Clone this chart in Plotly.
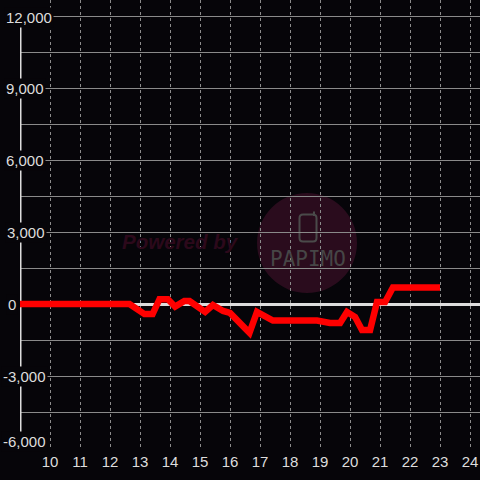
import plotly.graph_objects as go

# ---- data ----
hours = [9.0, 12.65, 13.15, 13.42, 13.65, 13.93, 14.17, 14.48, 14.65, 15.17, 15.43,
         15.77, 16.0, 16.65, 16.9, 17.43, 18.9, 19.33, 19.67, 19.9, 20.17, 20.4,
         20.67, 20.9, 21.17, 21.43, 23.0]
balance = [0, 0, -420, -420, 200, 200, -110, 125, 125, -330, -40,
           -290, -370, -1200, -330, -690, -690, -790, -790, -330, -540, -1080,
           -1080, 80, 80, 690, 690]

x_ticks = list(range(10, 25))
y_label_vals = [12000, 9000, 6000, 3000, 0, -3000, -6000]
y_label_text = ["12,000", "9,000", "6,000", "3,000", "0", "-3,000", "-6,000"]

BG = "#060509"
TXT = "#dddddd"

# layout geometry helpers (pixel -> axis coords)
L, W, T, H = 20, 460, 0, 448
XR = [9, 9 + W / 30]
YR = [-6000, 12000 + 16 * 1000 / 24]


def px2x(px):
    return XR[0] + (px - L) / W * (XR[1] - XR[0])


def py2y(py):
    return YR[1] - (py - T) / H * (YR[1] - YR[0])


fig = go.Figure()
fig.add_trace(go.Scatter(x=hours, y=balance, mode="lines",
                         line=dict(color="#ff0000", width=6.5),
                         hoverinfo="skip", showlegend=False))

shapes = []
# watermark circle
shapes.append(dict(type="circle", xref="x", yref="y",
                   x0=px2x(257), x1=px2x(357), y0=py2y(293), y1=py2y(193),
                   fillcolor="#2a0c1d", line=dict(width=0), layer="below"))
# phone icon
x0, x1, y0, y1 = px2x(299.5), px2x(316.5), py2y(241.5), py2y(214.5)
rx = px2x(303) - px2x(299.5)
ry = py2y(214.5) - py2y(218)
path = (f"M {x0+rx},{y0} L {x1-rx},{y0} Q {x1},{y0} {x1},{y0+ry} "
        f"L {x1},{y1-ry} Q {x1},{y1} {x1-rx},{y1} L {x0+rx},{y1} "
        f"Q {x0},{y1} {x0},{y1-ry} L {x0},{y0+ry} Q {x0},{y0} {x0+rx},{y0} Z")
shapes.append(dict(type="path", xref="x", yref="y", path=path,
                   line=dict(color="#4a4a4a", width=2), layer="below"))
shapes.append(dict(type="line", xref="x", yref="y",
                   x0=px2x(314), x1=px2x(314), y0=py2y(216), y1=py2y(211.5),
                   line=dict(color="#4a4a4a", width=2), layer="below"))
# y axis line
shapes.append(dict(type="line", xref="x", yref="y",
                   x0=9, x1=9, y0=-6000, y1=12000,
                   line=dict(color=TXT, width=3), layer="between"))
fig.update_layout(shapes=shapes)

annotations = []
y_label_left = [6, 6, 6, 7, 8, 3, 3]
y_label_shift = [-1, 0, 0, 0, 0, 0, 7]
for v, t, lx, sh in zip(y_label_vals, y_label_text, y_label_left, y_label_shift):
    annotations.append(dict(xref="paper", yref="y", x=(lx - 2 - L) / W, y=v,
                            yshift=sh, text=t, showarrow=False, xanchor="left",
                            yanchor="middle", bgcolor=BG, borderpad=1,
                            font=dict(size=15, color=TXT,
                                      family="Liberation Sans, Arial")))
annotations.append(dict(xref="x", yref="y", x=px2x(180.5), y=py2y(241),
                        text="<b><i>Powered by</i></b>", showarrow=False,
                        font=dict(size=20.5, color="#2c091b",
                                  family="Liberation Sans, Arial")))
annotations.append(dict(xref="x", yref="y", x=px2x(307.5), y=py2y(258.5),
                        text="PAPIMO", showarrow=False,
                        font=dict(size=21, color="#464646",
                                  family="DejaVu Sans Mono")))
fig.update_layout(annotations=annotations)

fig.update_layout(
    width=480, height=480,
    margin=dict(l=L, r=0, t=T, b=480 - H - T),
    paper_bgcolor=BG, plot_bgcolor=BG,
    font=dict(family="Liberation Sans, Arial", size=15, color=TXT),
    xaxis=dict(range=XR, tickvals=x_ticks, ticktext=[str(v) for v in x_ticks],
               showgrid=True, gridcolor="#8c8c8c", gridwidth=1,
               griddash="3px,3px", zeroline=False, showline=False,
               ticks="", ticklabelstandoff=3,
               tickfont=dict(size=15, color=TXT), fixedrange=True),
    yaxis=dict(range=YR, tick0=0, dtick=1500, showticklabels=False,
               showgrid=True, gridcolor="#8a8a8a", gridwidth=1,
               zeroline=True, zerolinecolor=TXT, zerolinewidth=3,
               showline=False, ticks="", fixedrange=True),
)

fig.write_html(
    "out.html",
    config={"displayModeBar": False, "staticPlot": True},
    post_script=("document.body.style.margin='0';"
                 "document.body.style.padding='0';"
                 "document.body.style.overflow='hidden';"
                 f"document.body.style.background='{BG}';"),
)
